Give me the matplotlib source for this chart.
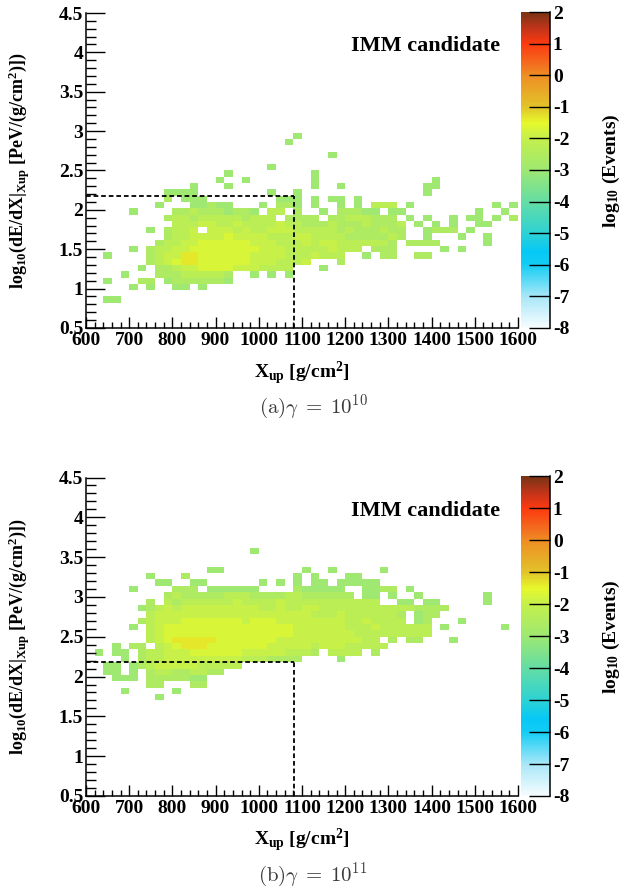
import numpy as np
import matplotlib
matplotlib.use('Agg')
from matplotlib import pyplot as plt
from matplotlib.colors import LinearSegmentedColormap, Normalize
from matplotlib.ticker import MultipleLocator, FormatStrFormatter

plt.rcParams['font.family'] = ['Liberation Serif', 'DejaVu Serif']
plt.rcParams['font.weight'] = 'bold'
plt.rcParams['mathtext.fontset'] = 'custom'
plt.rcParams['mathtext.rm'] = 'Liberation Serif:bold'
plt.rcParams['mathtext.it'] = 'Liberation Serif:bold'
plt.rcParams['mathtext.bf'] = 'Liberation Serif:bold'
plt.rcParams['mathtext.default'] = 'rm'
plt.rcParams['axes.unicode_minus'] = False

# binning of the histograms (X_up in g/cm2, log10 dE/dX)
x_edges = np.linspace(600, 1600, 51)
y_edges = np.linspace(0.5, 4.5, 51)

# colour level code -> log10(Events)
levels = {'1': -3.0, '2': -2.6, '3': -2.25, '4': -1.95, '5': -1.7, '6': -1.35}

# cut lines
cut_x = 1082
cut_y = 2.18

# (a) gamma = 1e10 : row index -> [(first column, cell codes)]
rows_a = [
    (30, [(24, "1")]),
    (29, [(23, "1")]),
    (27, [(28, "1")]),
    (25, [(21, "1")]),
    (24, [(16, "1"), (26, "1")]),
    (23, [(15, "1"), (18, "1"), (26, "1"), (40, "1")]),
    (22, [(12, "1"), (16, "1"), (26, "1"), (29, "1"), (39, "11")]),
    (21, [(9, "1111"), (21, "1"), (24, "1"), (39, "1")]),
    (20, [(9, "2"), (11, "111"), (22, "111"), (26, "1"), (28, "11"), (31, "1")]),
    (19, [(8, "1"), (12, "11211"), (20, "1"), (22, "221"), (26, "1"), (29, "1"),
          (31, "1"), (33, "333"), (37, "1"), (47, "1"), (49, "1")]),
    (18, [(5, "1"), (10, "2232221221"), (21, "33"), (24, "2"), (27, "1"),
          (29, "222"), (32, "11"), (35, "11"), (45, "1"), (48, "1")]),
    (17, [(9, "2332333332333"), (23, "2222"), (28, "22333222"), (37, "1"),
          (39, "1"), (42, "1"), (44, "11"), (47, "1"), (49, "2")]),
    (16, [(10, "3334433433334"), (23, "33222322232223"), (38, "1"), (40, "1"),
          (42, "1"), (45, "11")]),
    (15, [(7, "1"), (9, "2334.4443433444"), (24, "3333323222322"), (39, "1222"),
          (44, "1")]),
    (14, [(9, "23344445444433344"), (26, "33332222232"), (39, "1"), (43, "1"),
          (46, "1")]),
    (13, [(8, "233445555554443334"), (26, "3443333332"), (37, "2222"), (46, "1")]),
    (12, [(5, "1"), (7, "2334455555555444333"), (26, "334333"), (33, "222"),
          (41, "1"), (43, "1")]),
    (11, [(2, "1"), (7, "23446655555544443334"), (27, "333"), (32, "1"),
          (34, "22"), (38, "22")]),
    (10, [(7, "2345665555554443334"), (29, "2")]),
    (9, [(6, "1"), (8, "2234455554443333"), (27, "1")]),
    (8, [(4, "1"), (8, "222333332"), (19, "1"), (21, "1"), (23, "1")]),
    (7, [(2, "1"), (6, "22"), (9, "12222221")]),
    (6, [(5, "1"), (7, "1"), (10, "11"), (13, "1")]),
    (4, [(2, "11")]),
]

# (b) gamma = 1e11
rows_b = [
    (38, [(19, "1")]),
    (35, [(14, "11"), (25, "1"), (28, "1"), (34, "1")]),
    (34, [(7, "1"), (11, "2"), (24, "1"), (26, "1"), (30, "11")]),
    (33, [(8, "11"), (12, "11"), (20, "1"), (22, "1"), (24, "1"), (26, "11"),
          (29, "11111")]),
    (32, [(5, "1"), (10, "222"), (14, "111111"), (24, "211111"), (32, "11"),
          (34, "22"), (37, "1")]),
    (31, [(9, "2322222333222233"), (25, "222222"), (32, "11"), (35, "1"),
          (38, "1"), (46, "1")]),
    (30, [(7, "2"), (9, "3233333343333433"), (25, "333333333"), (36, "11"),
          (39, "11"), (46, "1")]),
    (29, [(6, "1"), (7, "23434444444443343"), (24, "344333333333332222")]),
    (28, [(7, "3444444444444444"), (23, "44433343333332"), (38, "122")]),
    (27, [(6, "2"), (7, "34445555555455544"), (24, "4444443343333"), (38, "12"),
          (43, "1")]),
    (26, [(5, "1"), (7, "345555555555555554"), (25, "444443334333333"),
          (41, "1"), (48, "1")]),
    (25, [(7, "3455555555555555544"), (26, "44444333333333")]),
    (24, [(7, "345666665555555444"), (25, "444444433"), (35, "2"), (37, "22"),
          (42, "1")]),
    (23, [(3, "1"), (5, "22"), (8, "3456665555555444443"), (27, "44433333")]),
    (22, [(1, "1"), (3, "11"), (6, "23344455555544444333"), (26, "2"),
          (28, "3333"), (33, "2")]),
    (21, [(4, "1"), (6, "2334444444443332222"), (29, "1")]),
    (20, [(2, "11"), (5, "12"), (7, "34444433333")]),
    (19, [(2, "11"), (5, "1"), (7, "233223322")]),
    (18, [(3, "111"), (7, "22222"), (12, "11")]),
    (17, [(7, "22"), (12, "22")]),
    (16, [(4, "1"), (10, "1")]),
    (15, [(8, "1")]),
]

captions = [r"$\mathrm{(a)}\gamma\;=\;10^{10}$", r"$\mathrm{(b)}\gamma\;=\;10^{11}$"]


def make_grid(rows):
    h = np.full((len(y_edges) - 1, len(x_edges) - 1), np.nan)
    for j, segs in rows:
        for start, codes in segs:
            for k, ch in enumerate(codes):
                if ch in levels:
                    h[j, start + k] = levels[ch]
    return np.ma.masked_invalid(h)


# ROOT-like palette with white at the bottom
pal = [(-8, '#f6fdff'), (-7, '#a6e6f8'), (-6, '#12cdf4'), (-5.6, '#06c8f6'),
       (-5, '#2ed2d4'), (-4, '#64dda4'), (-3, '#9ee872'), (-2, '#c4f04c'),
       (-1.5, '#e6f82c'), (-1, '#e2c42a'), (0, '#ee8e24'), (0.6, '#f65a1a'),
       (1, '#fd3a10'), (1.5, '#c2341a'), (2, '#783414')]
cmap = LinearSegmentedColormap.from_list(
    'rootpal', [((v + 8) / 10, c) for v, c in pal])
norm = Normalize(vmin=-8, vmax=2)

fig = plt.figure(figsize=(6.26, 8.88), dpi=100)
W, H = 626, 888

panels = [
    dict(rows=rows_a, top=13, bottom=328, xlab=360, cap_y=407),
    dict(rows=rows_b, top=477.5, bottom=796, xlab=827, cap_y=875),
]

for p, cap in zip(panels, captions):
    hpx = p['bottom'] - p['top']
    ax = fig.add_axes([86 / W, 1 - p['bottom'] / H, 432 / W, hpx / H])
    cax = fig.add_axes([521 / W, 1 - p['bottom'] / H, 29 / W, (hpx + 1) / H])

    mesh = ax.pcolormesh(x_edges, y_edges, make_grid(p['rows']), cmap=cmap,
                         norm=norm)
    ax.plot([600, cut_x], [cut_y, cut_y], color='k', lw=1.3,
            dashes=(2.6, 1.6), zorder=5)
    ax.plot([cut_x, cut_x], [0.5, cut_y], color='k', lw=1.3,
            dashes=(2.6, 1.6), zorder=5)

    ax.set_xlim(600, 1600)
    ax.set_ylim(0.5, 4.5)
    for s in ['top', 'right']:
        ax.spines[s].set_visible(False)
    for s in ['left', 'bottom']:
        ax.spines[s].set_linewidth(1.1)
    ax.xaxis.set_major_locator(MultipleLocator(100))
    ax.xaxis.set_minor_locator(MultipleLocator(20))
    ax.yaxis.set_major_locator(MultipleLocator(0.5))
    ax.yaxis.set_minor_locator(MultipleLocator(0.1))
    ax.yaxis.set_major_formatter(FormatStrFormatter('%g'))
    ax.tick_params(axis='both', which='both', direction='in', width=1,
                   top=False, right=False, labelsize=14)
    ax.tick_params(axis='y', which='major', length=14, pad=2)
    ax.tick_params(axis='y', which='minor', length=7)
    ax.tick_params(axis='x', which='major', length=8, pad=3)
    ax.tick_params(axis='x', which='minor', length=4)

    ax.set_xlabel(r"X$_{\mathrm{up}}$ [g/cm$^{2}$]", fontsize=14,
                  fontweight='bold')
    ax.xaxis.set_label_coords(0.5, (p['bottom'] - p['xlab']) / hpx)
    ax.set_ylabel(r"log$_{10}$(dE/dX|$_{\mathrm{Xup}}$ [PeV/(g/cm$^{2}$)])",
                  fontsize=13, fontweight='bold')
    ax.yaxis.set_label_coords(-0.125, 0.5)

    ax.text(0.958, 0.895, 'IMM candidate', transform=ax.transAxes,
            ha='right', va='center', fontsize=16, fontweight='bold')

    cb = fig.colorbar(mesh, cax=cax)
    cb.outline.set_visible(False)
    cax.plot([1, 1], [0, 1], transform=cax.transAxes, color='k', lw=1.1,
             clip_on=False)
    cb.set_ticks(np.arange(-8, 3, 1))
    cax.yaxis.set_ticks_position('right')
    cax.tick_params(axis='y', which='major', direction='in', length=15,
                    width=1, labelsize=14, pad=2)
    cax.minorticks_off()

    mid = (p['top'] + p['bottom']) / 2
    fig.text(611 / W, 1 - mid / H, r"log$_{10}$ (Events)", rotation=90,
             ha='center', va='center', fontsize=14, fontweight='bold')

    fig.text(0.5, 1 - p['cap_y'] / H, cap, ha='center', va='center',
             fontsize=15, color='#3a3a3a', math_fontfamily='cm')

fig.savefig('out.png', dpi=100)
